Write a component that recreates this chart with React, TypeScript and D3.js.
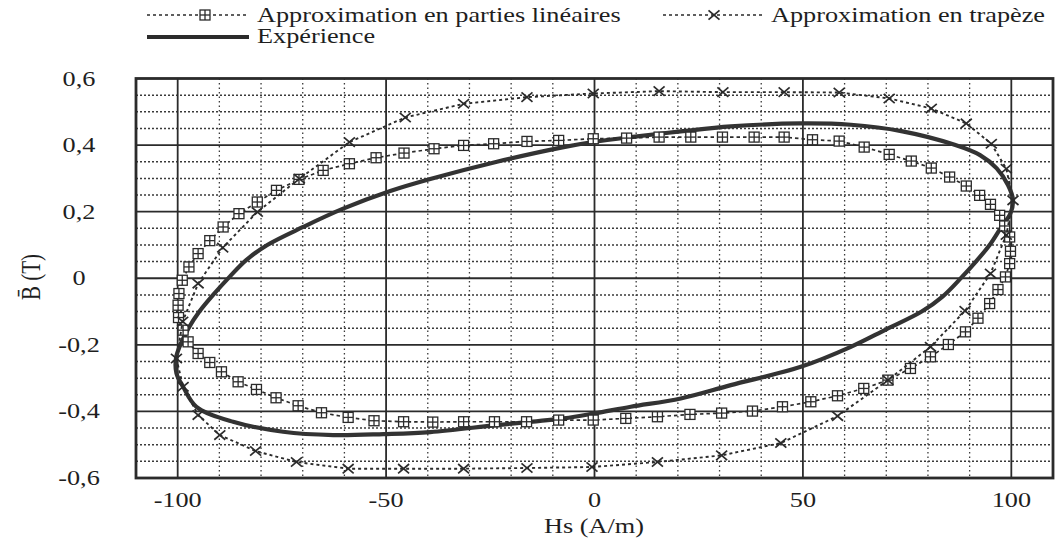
import * as d3 from 'd3';

// Expérience (solid loop)
const expH = [-100.4, -99.2, -97.4, -94.8, -91.5, -87.5, -83.5, -78.5, -69.9, -60.3, -49, -39.4, -23.4, -7.4, 0, 8.7, 20.7, 32.7, 49.5, 61.5, 73.6, 86.4, 92.5, 96.5, 99.2, 100.4, 99.8, 97.4, 94.8, 91.5, 87.5, 83.5, 78.5, 69.9, 61.5, 49.5, 32.7, 20.7, 8.7, 0, -7.4, -23.4, -39.4, -50.6, -62.7, -74.7, -86.7, -95.5, -98.7, -100.3];
const expB = [-0.24, -0.195, -0.15, -0.1, -0.05, 0.005, 0.055, 0.1, 0.154, 0.209, 0.262, 0.298, 0.35, 0.394, 0.41, 0.424, 0.441, 0.456, 0.465, 0.461, 0.442, 0.401, 0.37, 0.33, 0.28, 0.235, 0.195, 0.15, 0.1, 0.05, -0.005, -0.055, -0.1, -0.154, -0.206, -0.266, -0.321, -0.361, -0.386, -0.406, -0.421, -0.441, -0.462, -0.468, -0.471, -0.461, -0.431, -0.386, -0.326, -0.285];

// Approximation en parties linéaires (square markers)
const linH = [-99.8, -99.9, -99.7, -98.9, -97.3, -95.1, -92.3, -89.1, -85.3, -80.9, -76.3, -70.9, -65.1, -58.8, -52.4, -45.7, -38.5, -31.4, -24.2, -16.2, -8.6, -0.3, 7.7, 15.5, 23.1, 30.7, 38.3, 45.5, 52.3, 58.7, 64.7, 70.7, 76, 80.8, 85.2, 89.2, 92.4, 95, 97.2, 98.4, 99.6, 99.8, 99.6, 98.6, 96.8, 94.8, 92, 89, 84.9, 80.6, 75.8, 70.4, 64.6, 58.3, 51.9, 45.1, 37.9, 30.5, 22.9, 15.1, 7.5, -0.3, -8.6, -16.3, -24, -31.4, -38.8, -45.8, -52.9, -59.1, -65.5, -71.1, -76.4, -81.1, -85.5, -89.5, -92.3, -95.1, -97.5, -98.7];
const linB = [-0.118, -0.081, -0.046, -0.006, 0.034, 0.074, 0.113, 0.154, 0.194, 0.229, 0.264, 0.297, 0.324, 0.344, 0.362, 0.376, 0.389, 0.399, 0.404, 0.411, 0.414, 0.419, 0.421, 0.424, 0.424, 0.424, 0.424, 0.424, 0.416, 0.412, 0.394, 0.372, 0.352, 0.331, 0.304, 0.277, 0.249, 0.222, 0.189, 0.157, 0.124, 0.081, 0.044, 0.004, -0.034, -0.076, -0.12, -0.161, -0.199, -0.236, -0.271, -0.306, -0.331, -0.353, -0.371, -0.386, -0.399, -0.405, -0.409, -0.416, -0.421, -0.426, -0.426, -0.431, -0.431, -0.431, -0.432, -0.431, -0.428, -0.418, -0.404, -0.383, -0.359, -0.334, -0.311, -0.281, -0.253, -0.226, -0.191, -0.156];

// Approximation en trapèze (x markers)
const trapH = [-100.3, -98.8, -95.1, -89.2, -80.9, -70.8, -58.8, -45.4, -31.4, -16.2, -0.3, 15.5, 30.8, 45.5, 58.7, 70.7, 80.8, 89.2, 95.2, 98.8, 100.4, 98.8, 95, 88.9, 80.6, 70.4, 58.3, 44.7, 30.5, 15.1, -0.6, -16.2, -31.4, -45.8, -59.1, -71.5, -81.3, -89.9, -95.1, -98.7];
const trapB = [-0.241, -0.13, -0.016, 0.092, 0.199, 0.299, 0.409, 0.483, 0.524, 0.544, 0.555, 0.562, 0.559, 0.559, 0.558, 0.54, 0.51, 0.465, 0.404, 0.329, 0.234, 0.13, 0.014, -0.098, -0.206, -0.306, -0.414, -0.495, -0.532, -0.552, -0.567, -0.57, -0.572, -0.572, -0.572, -0.552, -0.519, -0.471, -0.411, -0.326];

const xTicks = [-100, -50, 0, 50, 100];
const xTickLabels = ['-100', '-50', '0', '50', '100'];
const yTicks = [0.6, 0.4, 0.2, 0, -0.2, -0.4, -0.6];
const yTickLabels = ['0,6', '0,4', '0,2', '0', '-0,2', '-0,4', '-0,6'];

const FONT = '"Liberation Serif", "Times New Roman", serif';
const INK = '#2b2b2b';
const SX = 1.25; // the scan is stretched sideways

function Label({ x, y, text, anchor = 'start', size = 21 }: { x: number; y: number; text: string; anchor?: string; size?: number }) {
  return (
    <text transform={`translate(${x},${y}) scale(${SX},1)`} textAnchor={anchor} fontSize={size} fontFamily={FONT} fill="#1e1e1e">
      {text}
    </text>
  );
}

function SquareMark({ cx, cy }: { cx: number; cy: number }) {
  const s = 5;
  return (
    <g transform={`translate(${cx},${cy})`} stroke={INK} strokeWidth={1.3}>
      <rect x={-s} y={-s} width={2 * s} height={2 * s} fill="#fff" />
      <line x1={-s} x2={s} y1={0} y2={0} />
      <line x1={0} x2={0} y1={-s} y2={s} />
    </g>
  );
}

function CrossMark({ cx, cy }: { cx: number; cy: number }) {
  const s = 5.5;
  return (
    <g transform={`translate(${cx},${cy})`} stroke={INK} strokeWidth={1.7}>
      <line x1={-s} x2={s} y1={-s * 0.85} y2={s * 0.85} />
      <line x1={-s} x2={s} y1={s * 0.85} y2={-s * 0.85} />
    </g>
  );
}

export default function App() {
  const left = 136, right = 1053, top = 78.5, bottom = 478;
  const x = d3.scaleLinear().domain([-110, 110]).range([left, right]);
  const y = d3.scaleLinear().domain([-0.6, 0.6]).range([bottom, top]);

  const exp = expH.map((h, i) => [h, expB[i]] as [number, number]);
  const lin = linH.map((h, i) => [h, linB[i]] as [number, number]);
  const trap = trapH.map((h, i) => [h, trapB[i]] as [number, number]);

  const smooth = d3.line<[number, number]>().x(d => x(d[0])).y(d => y(d[1])).curve(d3.curveCatmullRomClosed.alpha(0.5));
  const straight = d3.line<[number, number]>().x(d => x(d[0])).y(d => y(d[1])).curve(d3.curveLinearClosed);

  // grid positions
  const xMinor = d3.range(-9, 10).filter(i => i % 5 !== 0).map(i => i * 10);
  const yMinor = d3.range(-11, 12).filter(i => i % 4 !== 0).map(i => i * 0.05);
  const yMajor = [-0.4, -0.2, 0, 0.2, 0.4];

  return (
    <div style={{ position: 'fixed', left: 0, top: 0 }}>
      <svg width={1061} height={539} style={{ display: 'block', background: '#fff' }}>
        {/* legend */}
        <g>
          <line x1={147} x2={249} y1={15} y2={15} stroke={INK} strokeWidth={1.7} strokeDasharray="3,3" />
          <SquareMark cx={205} cy={15} />
          <Label x={257} y={22} text="Approximation en parties linéaires" />
          <line x1={663} x2={765} y1={15} y2={15} stroke={INK} strokeWidth={1.7} strokeDasharray="3,3" />
          <CrossMark cx={714} cy={15} />
          <Label x={771} y={22} text="Approximation en trapèze" />
          <line x1={147} x2={249} y1={37} y2={37} stroke={INK} strokeWidth={4} />
          <Label x={257} y={43} text="Expérience" />
        </g>

        {/* grid */}
        <g>
          {yMinor.map(v => (
            <line key={'ym' + v} x1={left} x2={right} y1={y(v)} y2={y(v)} stroke="#3a3a3a" strokeWidth={1.5} strokeDasharray="2,2" />
          ))}
          {xMinor.map(v => (
            <line key={'xm' + v} x1={x(v)} x2={x(v)} y1={top} y2={bottom} stroke="#3a3a3a" strokeWidth={1.3} strokeDasharray="1.5,3" />
          ))}
          {yMajor.map(v => (
            <line key={'yM' + v} x1={left} x2={right} y1={y(v)} y2={y(v)} stroke={INK} strokeWidth={1.8} />
          ))}
          {xTicks.map(v => (
            <line key={'xM' + v} x1={x(v)} x2={x(v)} y1={top} y2={bottom} stroke={INK} strokeWidth={1.8} />
          ))}
          <rect x={left} y={top} width={right - left} height={bottom - top} fill="none" stroke={INK} strokeWidth={2.8} />
        </g>

        {/* series */}
        <path d={smooth(exp) ?? ''} fill="none" stroke="#333" strokeWidth={4.2} strokeLinejoin="round" />
        <path d={straight(lin) ?? ''} fill="none" stroke={INK} strokeWidth={1.7} strokeDasharray="3.5,3" />
        {lin.map((d, i) => <SquareMark key={'s' + i} cx={x(d[0])} cy={y(d[1])} />)}
        <path d={straight(trap) ?? ''} fill="none" stroke={INK} strokeWidth={1.9} strokeDasharray="3,3" />
        {trap.map((d, i) => <CrossMark key={'c' + i} cx={x(d[0])} cy={y(d[1])} />)}

        {/* axes labels */}
        {yTicks.map((v, i) => (
          <Label key={'yl' + v} x={79} y={y(v) + 7} text={yTickLabels[i]} anchor="middle" />
        ))}
        {xTicks.map((v, i) => (
          <Label key={'xl' + v} x={x(v)} y={507} text={xTickLabels[i]} anchor="middle" />
        ))}
        <Label x={594} y={533} text="Hs (A/m)" anchor="middle" />
        <text transform={`translate(40,277) rotate(-90) scale(1,${SX})`} textAnchor="middle" fontSize={21} fontFamily={FONT} fill="#1e1e1e">
          {'B\u0304 (T)'}
        </text>
      </svg>
    </div>
  );
}
